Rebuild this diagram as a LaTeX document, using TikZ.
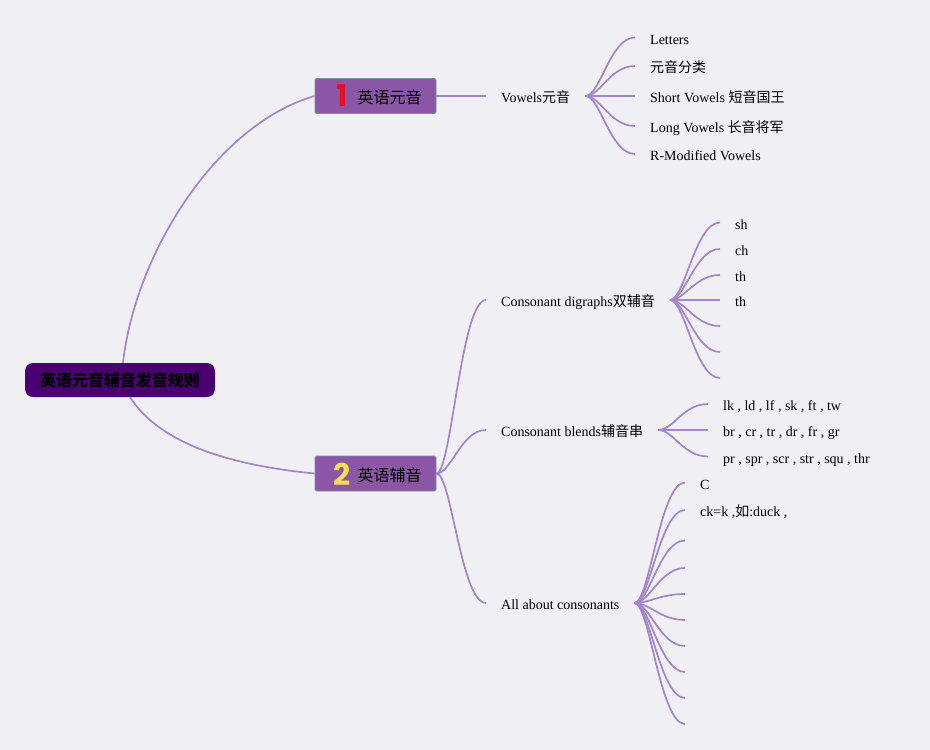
\documentclass[tikz,border=0pt]{standalone}
\usepackage{fontspec}
\setmainfont{Liberation Serif}
\newfontfamily\cjk{Noto Sans CJK SC}
\newfontfamily\numfont{Poppins}
\definecolor{bg}{HTML}{F0EFF4}
\definecolor{ln}{HTML}{A385C8}
\definecolor{nodefill}{HTML}{8B56A6}
\definecolor{nodeborder}{HTML}{7C8BA6}
\definecolor{rootfill}{HTML}{4A0070}
\definecolor{redn}{HTML}{E3102B}
\definecolor{yelln}{HTML}{F4DC58}
\begin{document}
\begin{tikzpicture}[x=1pt,y=-1pt,
  rootbox/.style={rectangle, rounded corners=8pt, fill=rootfill, minimum width=190pt, minimum height=34pt, inner sep=0pt, font=\cjk\bfseries\fontsize{16}{18}\selectfont, text=black},
  mainbox/.style={rectangle, rounded corners=1.5pt, draw=nodeborder, line width=0.9pt, fill=nodefill, minimum width=121pt, minimum height=35pt},
  maintxt/.style={anchor=west, inner sep=0pt, text height=12pt, text depth=0pt, font=\cjk\fontsize{16}{18}\selectfont, text=black},
  numicon/.style={inner sep=0pt, font=\numfont\bfseries\fontsize{30}{30}\selectfont},
  subtxt/.style={anchor=west, inner xsep=15pt, inner ysep=0pt, text height=13pt, text depth=0pt, font=\fontsize{14}{16}\selectfont},
  leaftxt/.style={anchor=west, inner xsep=15pt, inner ysep=0pt, text height=13pt, text depth=0pt, font=\fontsize{14}{16}\selectfont},
  conn/.style={draw=ln, line width=1.7pt},
  br/.style={conn}
]
\fill[bg] (0,0) rectangle (930,750);
\useasboundingbox (0,0) rectangle (930,750);

% root
\node[rootbox] (root) at (120,380) {英语元音辅音发音规则};

% main nodes
\node[mainbox] (n1) at (375.5,96) {};
\node[numicon, text=redn] (n1num) at (342,96) {1};
\node[maintxt] (n1txt) at (357.5,97.5) {英语元音};

\node[mainbox] (n2) at (375.5,473.5) {};
\node[numicon, text=yelln] (n2num) at (342,474) {2};
\node[maintxt] (n2txt) at (357.5,475.5) {英语辅音};

% sub nodes
\node[subtxt] (v) at (486,96) {Vowels{\cjk 元音}};
\node[subtxt] (dg) at (486,300) {Consonant digraphs{\cjk 双辅音}};
\node[subtxt] (bl) at (486,430) {Consonant blends{\cjk 辅音串}};
\node[subtxt] (ac) at (486,603) {All about consonants};

% vowel leaves
\node[leaftxt] (v1) at (635,37.5) {Letters};
\node[leaftxt] (v2) at (635,66) {\cjk 元音分类};
\node[leaftxt] (v3) at (635,96) {Short Vowels {\cjk 短音国王}};
\node[leaftxt] (v4) at (635,126) {Long Vowels {\cjk 长音将军}};
\node[leaftxt] (v5) at (635,154) {R-Modified Vowels};

% digraph leaves
\node[leaftxt] (d1) at (720,222.5) {sh};
\node[leaftxt] (d2) at (720,249) {ch};
\node[leaftxt] (d3) at (720,275) {th};
\node[leaftxt] (d4) at (720,300) {th};
\coordinate (d5) at (720,326);
\coordinate (d6) at (720,352);
\coordinate (d7) at (720,378);

% blend leaves
\node[leaftxt] (b1) at (708,404) {lk , ld , lf , sk , ft , tw};
\node[leaftxt] (b2) at (708,430) {br , cr , tr , dr , fr , gr};
\node[leaftxt] (b3) at (708,456.5) {pr , spr , scr , str , squ , thr};

% all-about leaves
\node[leaftxt] (a1) at (685,482.5) {C};
\node[leaftxt] (a2) at (685,510) {ck=k ,{\cjk 如}:duck ,};
\coordinate (a3) at (685,540.5);
\coordinate (a4) at (685,568);
\coordinate (a5) at (685,594);
\coordinate (a6) at (685,620);
\coordinate (a7) at (685,646);
\coordinate (a8) at (685,672);
\coordinate (a9) at (685,698);
\coordinate (a10) at (685,724);

% root connectors
\draw[conn] ([xshift=3pt]root.north) .. controls (135,255) and (215,125) .. (n1.west);
\draw[conn] ([xshift=10pt]root.south) .. controls (157,439) and (218,464) .. (n2.west);

% main to sub
\draw[conn] (n1.east) -- (v.west);
\foreach \t in {dg,bl,ac}
  \draw[br] (n2.east) .. controls +(15,0) and +(-25,0) .. (\t.west);

% sub to leaves
\foreach \t in {v1,v2,v3,v4,v5}
  \draw[br] (v.east) .. controls +(15,0) and +(-25,0) .. (\t.west);
\foreach \t in {d1,d2,d3,d4}
  \draw[br] (dg.east) .. controls +(15,0) and +(-25,0) .. (\t.west);
\foreach \t in {d5,d6,d7}
  \draw[br] (dg.east) .. controls +(15,0) and +(-25,0) .. (\t);
\foreach \t in {b1,b2,b3}
  \draw[br] (bl.east) .. controls +(15,0) and +(-25,0) .. (\t.west);
\foreach \t in {a1,a2}
  \draw[br] (ac.east) .. controls +(15,0) and +(-25,0) .. (\t.west);
\foreach \t in {a3,a4,a5,a6,a7,a8,a9,a10}
  \draw[br] (ac.east) .. controls +(15,0) and +(-25,0) .. (\t);
\end{tikzpicture}
\end{document}
